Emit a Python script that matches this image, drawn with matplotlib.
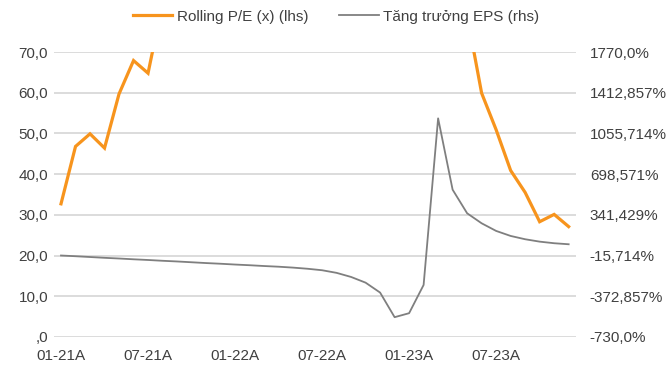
import matplotlib
matplotlib.use("Agg")
import matplotlib.pyplot as plt

plt.rcParams['font.family'] = ['Liberation Sans', 'DejaVu Sans']

# monthly categories 01-21A .. 12-23A
months = [f"{m:02d}-{y}A" for y in (21, 22, 23) for m in range(1, 13)]

# Rolling P/E (x), left axis; values above 70 run off the top of the chart
pe = [32.7, 46.8, 49.9, 46.4, 59.7, 67.9, 64.8,
      82, 88, 92, 95, 98, 102, 105, 108, 112, 118, 125, 135, 150, 170,
      200, 260, 300, 280, 200, 130, 95, 79,
      59.9, 50.9, 40.9, 35.5, 28.3, 30.1, 27.1]

# EPS growth (%), right axis
eps = [-15.7, -22, -29, -36, -42, -49, -55, -62, -68, -75, -82, -88,
       -95, -101, -108, -114, -122, -132, -145, -168, -204, -254, -341, -557,
       -522, -274, 1188, 562, 355, 267, 200, 156, 127, 106, 92, 83]

left_ticks = [0, 10, 20, 30, 40, 50, 60, 70]
left_labels = [",0", "10,0", "20,0", "30,0", "40,0", "50,0", "60,0", "70,0"]
right_ticks = [-730, -372.857, -15.714, 341.429, 698.571, 1055.714, 1412.857, 1770]
right_labels = ["-730,0%", "-372,857%", "-15,714%", "341,429%", "698,571%",
                "1055,714%", "1412,857%", "1770,0%"]

orange = "#F7941D"
grey = "#7F7F7F"
txt = "#404040"

fig = plt.figure(figsize=(6.72, 3.69), dpi=100)
ax = fig.add_axes([0.080, 0.087, 0.777, 0.772])
x = list(range(len(months)))

ax.plot(x, pe, color=orange, lw=2.3, solid_joinstyle="miter", label="Rolling P/E (x) (lhs)")
ax.set_ylim(0, 70)
ax.set_xlim(-0.5, len(months) - 0.5)
ax.set_yticks(left_ticks)
ax.set_yticklabels(left_labels)
ax.grid(axis="y", color="#D9D9D9", lw=1.3)
ax.set_axisbelow(True)
ax.set_xticks(x[::6])
ax.set_xticklabels(months[::6])
ax.tick_params(length=0, labelsize=11, colors=txt)
ax.tick_params(axis="y", pad=4)
ax.tick_params(axis="x", pad=8.5)
for s in ax.spines.values():
    s.set_visible(False)

ax2 = ax.twinx()
ax2.plot(x, eps, color=grey, lw=1.3, label="Tăng trưởng EPS (rhs)")
ax2.set_ylim(-730, 1770)
ax2.set_yticks(right_ticks)
ax2.set_yticklabels(right_labels)
ax2.tick_params(length=0, labelsize=11, colors=txt, pad=10)
for s in ax2.spines.values():
    s.set_visible(False)

h1, l1 = ax.get_legend_handles_labels()
h2, l2 = ax2.get_legend_handles_labels()
fig.legend(h1 + h2, l1 + l2, loc="center", bbox_to_anchor=(0.5, 0.955), ncol=2,
           frameon=False, fontsize=11, labelcolor=txt, handlelength=2.6,
           handletextpad=0.3, columnspacing=2.0)

fig.savefig("out.png", dpi=100)
